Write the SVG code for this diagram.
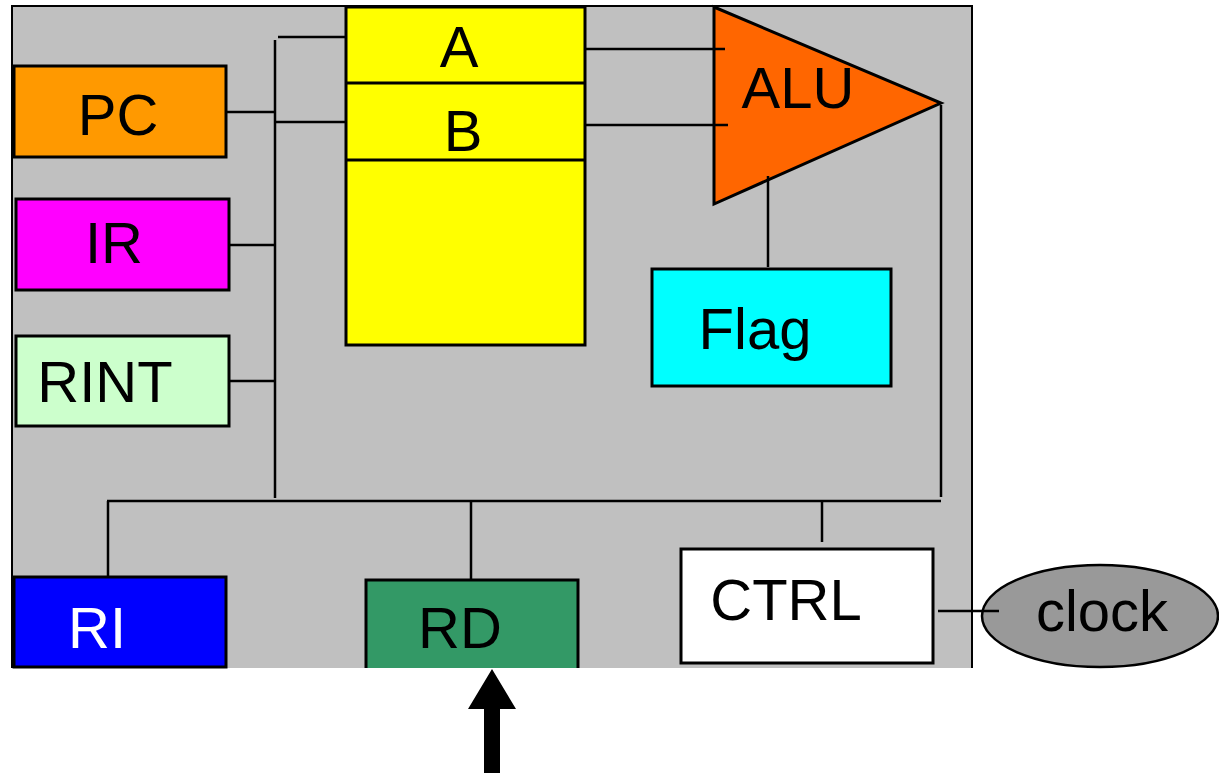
<svg xmlns="http://www.w3.org/2000/svg" width="1219" height="775" viewBox="0 0 1219 775">
<style>
.box{stroke:#000;stroke-width:3}
.lbl{font-family:"Liberation Sans",Arial,sans-serif;font-size:58px;text-anchor:middle;fill:#000}
.wire{stroke:#000;stroke-width:2.5;fill:none}
</style>
<rect width="1219" height="775" fill="#fff"/>
<g id="cpu">
<rect x="12" y="6" width="960" height="662" fill="#c0c0c0"/>
<path d="M12,668 V6 H972 V668" fill="none" stroke="#000" stroke-width="2"/>
</g>
<g id="regs">
<rect class="box" x="346" y="7" width="239" height="338" fill="#ffff00"/>
<line class="box" x1="346" y1="83" x2="585" y2="83"/>
<line class="box" x1="346" y1="160" x2="585" y2="160"/>
<text class="lbl" x="459" y="67">A</text>
<text class="lbl" x="463" y="151">B</text>
</g>
<g id="pc">
<rect class="box" x="14" y="66" width="212" height="91" fill="#ff9900"/>
<text class="lbl" x="118" y="135">PC</text>
</g>
<g id="ir">
<rect class="box" x="16" y="199" width="213" height="91" fill="#ff00ff"/>
<text class="lbl" x="114" y="263">IR</text>
</g>
<g id="rint">
<rect class="box" x="16" y="336" width="213" height="90" fill="#ccffcc"/>
<text class="lbl" x="105" y="402">RINT</text>
</g>
<g id="alu">
<polygon class="box" points="714,7 941,103 714,204" fill="#ff6600" stroke-width="2.5"/>
<text class="lbl" x="798" y="108">ALU</text>
</g>
<g id="flag">
<rect class="box" x="652" y="269" width="239" height="117" fill="#00ffff"/>
<text class="lbl" x="755" y="349">Flag</text>
</g>
<g id="ri">
<rect class="box" x="14" y="577" width="212" height="90" fill="#0000ff"/>
<text class="lbl" x="97" y="648" style="fill:#fff">RI</text>
</g>
<g id="rd">
<rect x="366" y="580" width="212" height="88" fill="#339966"/>
<path d="M366,668 V580 H578 V668" fill="none" stroke="#000" stroke-width="3"/>
<text class="lbl" x="460" y="648">RD</text>
</g>
<g id="ctrl">
<rect class="box" x="681" y="549" width="252" height="114" fill="#ffffff" stroke-width="2.5"/>
<text class="lbl" x="786" y="620">CTRL</text>
</g>
<g id="clock">
<ellipse cx="1100" cy="616" rx="118" ry="51" fill="#999999" stroke="#000" stroke-width="2.5"/>
<text class="lbl" x="1102" y="631">clock</text>
</g>
<g id="connectors">
<line class="wire" x1="278" y1="37" x2="346" y2="37"/>
<line class="wire" x1="275" y1="40" x2="275" y2="498"/>
<line class="wire" x1="275" y1="122" x2="346" y2="122"/>
<line class="wire" x1="226" y1="112" x2="275" y2="112"/>
<line class="wire" x1="229" y1="245" x2="275" y2="245"/>
<line class="wire" x1="229" y1="381" x2="275" y2="381"/>
<line class="wire" x1="585" y1="49" x2="725" y2="49"/>
<line class="wire" x1="585" y1="125" x2="728" y2="125"/>
<line class="wire" x1="768" y1="176" x2="768" y2="267"/>
<line class="wire" x1="941" y1="105" x2="941" y2="497"/>
<line class="wire" x1="107" y1="501" x2="941" y2="501"/>
<line class="wire" x1="108" y1="501" x2="108" y2="577"/>
<line class="wire" x1="471" y1="502" x2="471" y2="580"/>
<line class="wire" x1="822" y1="502" x2="822" y2="542"/>
<line class="wire" x1="938" y1="611" x2="999" y2="611"/>
<polygon points="492,669 516,709 500,709 500,773 484,773 484,709 468,709" fill="#000"/>
</g>
</svg>
